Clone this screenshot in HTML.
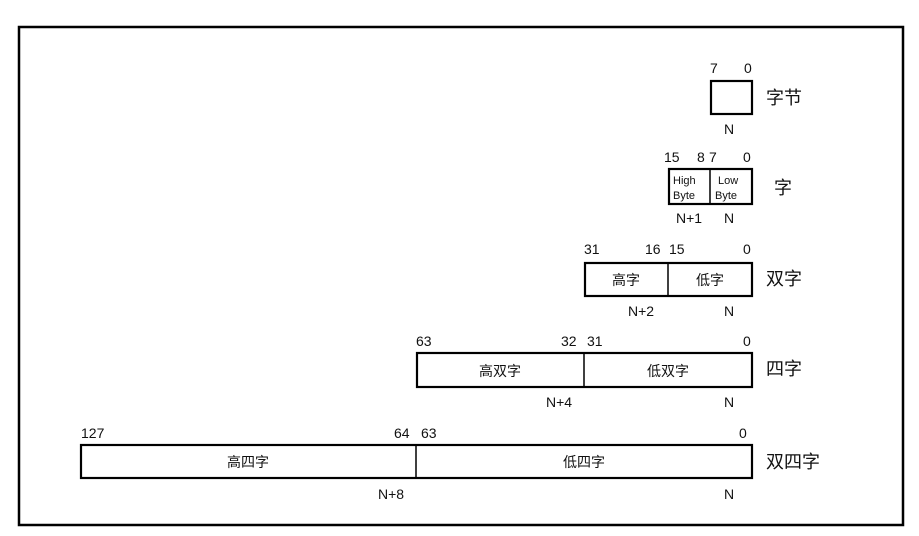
<!DOCTYPE html>
<html><head><meta charset="utf-8"><style>
html,body{margin:0;padding:0;background:#fff;width:919px;height:536px;overflow:hidden}
text{font-family:"Liberation Sans","Noto Sans CJK SC",sans-serif;fill:#111}
</style></head><body>
<svg width="919" height="536" xmlns="http://www.w3.org/2000/svg">
<rect x="19" y="27" width="884" height="498" fill="none" stroke="#000" stroke-width="2.5"/>
<g fill="#fff" stroke="#000" stroke-width="2.2">
<rect x="711" y="81" width="41" height="33"/>
<rect x="669" y="169" width="83" height="35"/>
<rect x="585" y="263" width="167" height="33"/>
<rect x="417" y="353" width="335" height="34"/>
<rect x="81" y="445" width="671" height="33"/>
</g>
<g stroke="#000" stroke-width="1.5">
<line x1="710" y1="169" x2="710" y2="204"/>
<line x1="668" y1="263" x2="668" y2="296"/>
<line x1="584" y1="353" x2="584" y2="387"/>
<line x1="416" y1="445" x2="416" y2="478"/>
</g>
<g font-size="14">
<text x="710" y="73">7</text><text x="744" y="73">0</text>
<text x="724" y="134">N</text>
<text x="664" y="162">15</text><text x="697" y="162">8</text><text x="709" y="162">7</text><text x="743" y="162">0</text>
<text x="676" y="223">N+1</text><text x="724" y="223">N</text>
<text x="584" y="254">31</text><text x="645" y="254">16</text><text x="669" y="254">15</text><text x="743" y="254">0</text>
<text x="628" y="316">N+2</text><text x="724" y="316">N</text>
<text x="416" y="346">63</text><text x="561" y="346">32</text><text x="587" y="346">31</text><text x="743" y="346">0</text>
<text x="546" y="407">N+4</text><text x="724" y="407">N</text>
<text x="81" y="438">127</text><text x="394" y="438">64</text><text x="421" y="438">63</text><text x="739" y="438">0</text>
<text x="378" y="499">N+8</text><text x="724" y="499">N</text>
</g>
<g font-size="11">
<text x="673" y="184">High</text><text x="673" y="199">Byte</text>
<text x="718" y="184">Low</text><text x="715" y="199">Byte</text>
</g>
<g font-size="14" text-anchor="middle">
<text x="626" y="285">高字</text><text x="710" y="285">低字</text>
<text x="500" y="376">高双字</text><text x="668" y="376">低双字</text>
<text x="248" y="467">高四字</text><text x="584" y="467">低四字</text>
</g>
<g font-size="18">
<text x="766" y="104">字节</text>
<text x="774" y="194">字</text>
<text x="766" y="285">双字</text>
<text x="766" y="375">四字</text>
<text x="766" y="468">双四字</text>
</g>
</svg>
</body></html>
